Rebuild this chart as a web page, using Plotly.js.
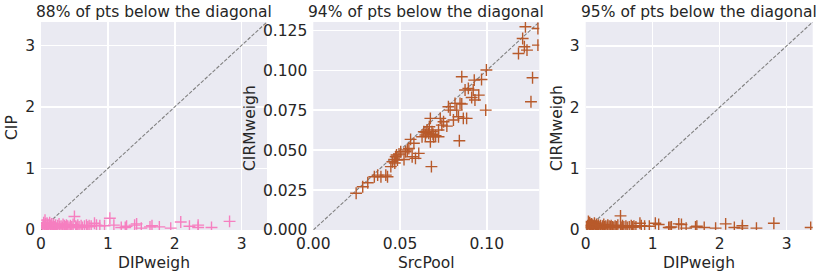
<!DOCTYPE html>
<html>
<head>
<meta charset="utf-8">
<script src="https://cdn.plot.ly/plotly-3.0.1.min.js"></script>
<style>html,body{margin:0;padding:0;background:#fff;}#chart{width:822px;height:277px;}</style>
</head>
<body>
<div id="chart"></div>
<script>
// ---- Data ----
const titles = ["88% of pts below the diagonal", "94% of pts below the diagonal", "95% of pts below the diagonal"];
const xLabels = ["DIPweigh", "SrcPool", "DIPweigh"];
const yLabels = ["CIP", "CIRMweigh", "CIRMweigh"];

// Panel 1: DIPweigh vs CIP
const dipWeigh1 = [0.02,0.03,0.04,0.05,0.06,0.06,0.07,0.08,0.09,0.10,0.10,0.11,0.12,0.13,0.14,0.15,0.16,0.17,0.18,0.19,0.20,0.22,0.23,0.25,0.27,0.28,0.30,0.32,0.33,0.35,0.37,0.38,0.40,0.42,0.44,0.46,0.48,0.50,0.52,0.53,0.55,0.57,0.60,0.62,0.65,0.68,0.70,0.72,0.75,0.80,0.83,0.88,0.95,1.03,1.09,1.20,1.26,1.28,1.40,1.43,1.50,1.63,1.66,1.77,1.94,2.09,2.22,2.35,2.35,2.55,2.82];
const cip = [0.03,0.08,0.12,0.05,0.16,0.07,0.10,0.04,0.11,0.06,0.09,0.03,0.08,0.12,0.05,0.07,0.10,0.04,0.06,0.09,0.05,0.08,0.03,0.07,0.10,0.05,0.06,0.04,0.09,0.07,0.05,0.08,0.06,0.04,0.07,0.05,0.09,0.22,0.06,0.04,0.08,0.05,0.07,0.04,0.06,0.08,0.05,0.07,0.06,0.11,0.08,0.07,0.07,0.19,0.08,0.04,0.04,0.06,0.08,0.10,0.03,0.05,0.07,0.05,0.03,0.13,0.06,0.08,0.04,0.04,0.14];

// Panel 2: SrcPool vs CIRMweigh
const srcPool = [0.0247,0.0285,0.0314,0.0352,0.0371,0.0390,0.0418,0.0428,0.0447,0.0456,0.0466,0.0470,0.0475,0.0480,0.0485,0.0494,0.0504,0.0523,0.0532,0.0542,0.0551,0.0561,0.0570,0.0580,0.0589,0.0608,0.0627,0.0637,0.0646,0.0650,0.0656,0.0665,0.0669,0.0675,0.0675,0.0681,0.0684,0.0690,0.0694,0.0705,0.0722,0.0732,0.0722,0.0741,0.0751,0.0770,0.0779,0.0789,0.0808,0.0817,0.0827,0.0837,0.0846,0.0856,0.0842,0.0856,0.0865,0.0875,0.0884,0.0894,0.0913,0.0922,0.0928,0.0932,0.0954,0.0970,0.0998,0.0994,0.1183,0.1207,0.1217,0.1232,0.1223,0.1264,0.1255,0.1295,0.1295];
const cirmWeigh2 = [0.0230,0.0271,0.0296,0.0334,0.0344,0.0334,0.0344,0.0334,0.0397,0.0428,0.0442,0.0420,0.0459,0.0470,0.0438,0.0476,0.0490,0.0442,0.0490,0.0501,0.0511,0.0568,0.0459,0.0543,0.0449,0.0480,0.0584,0.0616,0.0595,0.0610,0.0626,0.0605,0.0647,0.0699,0.0553,0.0397,0.0616,0.0600,0.0584,0.0590,0.0626,0.0699,0.0584,0.0657,0.0678,0.0651,0.0772,0.0751,0.0689,0.0793,0.0751,0.0709,0.0793,0.0789,0.0559,0.0960,0.0699,0.0877,0.0699,0.0887,0.0830,0.0877,0.0939,0.0814,0.0845,0.0943,0.1002,0.0751,0.1106,0.1200,0.1148,0.1127,0.1273,0.0954,0.0803,0.1158,0.1262];

// Panel 3: DIPweigh vs CIRMweigh
const dipWeigh3 = [0.02,0.03,0.04,0.05,0.06,0.06,0.07,0.08,0.09,0.10,0.10,0.11,0.12,0.13,0.14,0.15,0.16,0.17,0.18,0.19,0.20,0.22,0.23,0.25,0.27,0.28,0.30,0.32,0.33,0.35,0.37,0.38,0.40,0.42,0.44,0.46,0.48,0.52,0.52,0.53,0.55,0.57,0.60,0.62,0.65,0.68,0.70,0.72,0.75,0.81,0.83,0.88,0.95,1.04,1.09,1.24,1.26,1.28,1.39,1.43,1.50,1.64,1.66,1.77,1.94,2.09,2.22,2.34,2.34,2.55,2.81,3.36];
const cirmWeigh3 = [0.03,0.07,0.14,0.05,0.12,0.07,0.09,0.04,0.10,0.06,0.08,0.03,0.07,0.11,0.05,0.06,0.09,0.04,0.06,0.08,0.05,0.07,0.03,0.06,0.09,0.05,0.06,0.04,0.08,0.06,0.05,0.07,0.05,0.04,0.06,0.05,0.08,0.23,0.05,0.04,0.07,0.05,0.06,0.04,0.05,0.07,0.05,0.06,0.05,0.11,0.07,0.06,0.06,0.11,0.09,0.04,0.04,0.05,0.10,0.09,0.03,0.05,0.06,0.04,0.03,0.10,0.04,0.07,0.03,0.03,0.11,0.04];

// Axis extents (data units)
const range1 = [0, 3.38];
const range2 = [0, 0.1303];
const range3 = [0, 3.39];

// ---- Styling ----
const W = 822, H = 277;
const pink = "#f67fc0";
const brown = "#b85a2b";
const bg = "#eaeaf2";
const font = {family: "DejaVu Sans, sans-serif", size: 15.5, color: "#262626"};
const plotTop = 22, plotBottom = 230;
const panelsPx = [[41, 267], [313.3, 539.3], [585.7, 812.7]];
const yDom = [(H - plotBottom) / H, (H - plotTop) / H];

function mk(x, y, color, xa, ya) {
  return {x, y, type: "scatter", mode: "markers", xaxis: xa, yaxis: ya,
    marker: {symbol: "cross-thin", size: 8.5, color, line: {width: 1.4, color}}, hoverinfo: "skip"};
}
function diag(r, xa, ya) {
  return {x: [r[0], r[1]], y: [r[0], r[1]], type: "scatter", mode: "lines", xaxis: xa, yaxis: ya,
    line: {color: "#808080", width: 1.1, dash: "3.7px,1.6px"}, hoverinfo: "skip"};
}

const data = [
  diag(range1, "x", "y"), mk(dipWeigh1, cip, pink, "x", "y"),
  diag(range2, "x2", "y2"), mk(srcPool, cirmWeigh2, brown, "x2", "y2"),
  diag(range3, "x3", "y3"), mk(dipWeigh3, cirmWeigh3, brown, "x3", "y3")
];

function axis(dom, r, dtick, fmt, anchor, isX) {
  return {domain: dom, range: r, dtick, tick0: 0, tickformat: fmt, anchor,
    showgrid: true, gridcolor: "#ffffff", gridwidth: 1.6, zeroline: false, showline: false,
    ticks: "", ticklabelstandoff: isX ? 2 : 5, tickfont: font, automargin: false, fixedrange: true};
}

const layout = {
  width: W, height: H, margin: {l: 0, r: 0, t: 0, b: 0},
  paper_bgcolor: "#ffffff", plot_bgcolor: bg, showlegend: false, font,
  xaxis: axis([panelsPx[0][0] / W, panelsPx[0][1] / W], range1, 1, "d", "y", true),
  yaxis: axis(yDom, range1, 1, "d", "x", false),
  xaxis2: axis([panelsPx[1][0] / W, panelsPx[1][1] / W], range2, 0.05, ".2f", "y2", true),
  yaxis2: axis(yDom, range2, 0.025, ".3f", "x2", false),
  xaxis3: axis([panelsPx[2][0] / W, panelsPx[2][1] / W], range3, 1, "d", "y3", true),
  yaxis3: axis(yDom, range3, 1, "d", "x3", false),
  annotations: []
};

const yTitleX = [12, 250, 557];
for (let i = 0; i < 3; i++) {
  const cx = (panelsPx[i][0] + panelsPx[i][1]) / 2 / W;
  layout.annotations.push({text: titles[i], xref: "paper", yref: "paper", x: cx, y: (H - 12) / H,
    xanchor: "center", yanchor: "middle", showarrow: false, font});
  layout.annotations.push({text: xLabels[i], xref: "paper", yref: "paper", x: cx, y: (H - 263) / H,
    xanchor: "center", yanchor: "middle", showarrow: false, font});
  layout.annotations.push({text: yLabels[i], xref: "paper", yref: "paper", x: yTitleX[i] / W,
    y: (H - 128) / H, xanchor: "center", yanchor: "middle", textangle: -90,
    showarrow: false, font});
}

Plotly.newPlot("chart", data, layout, {staticPlot: true, displayModeBar: false});
</script>
</body>
</html>
